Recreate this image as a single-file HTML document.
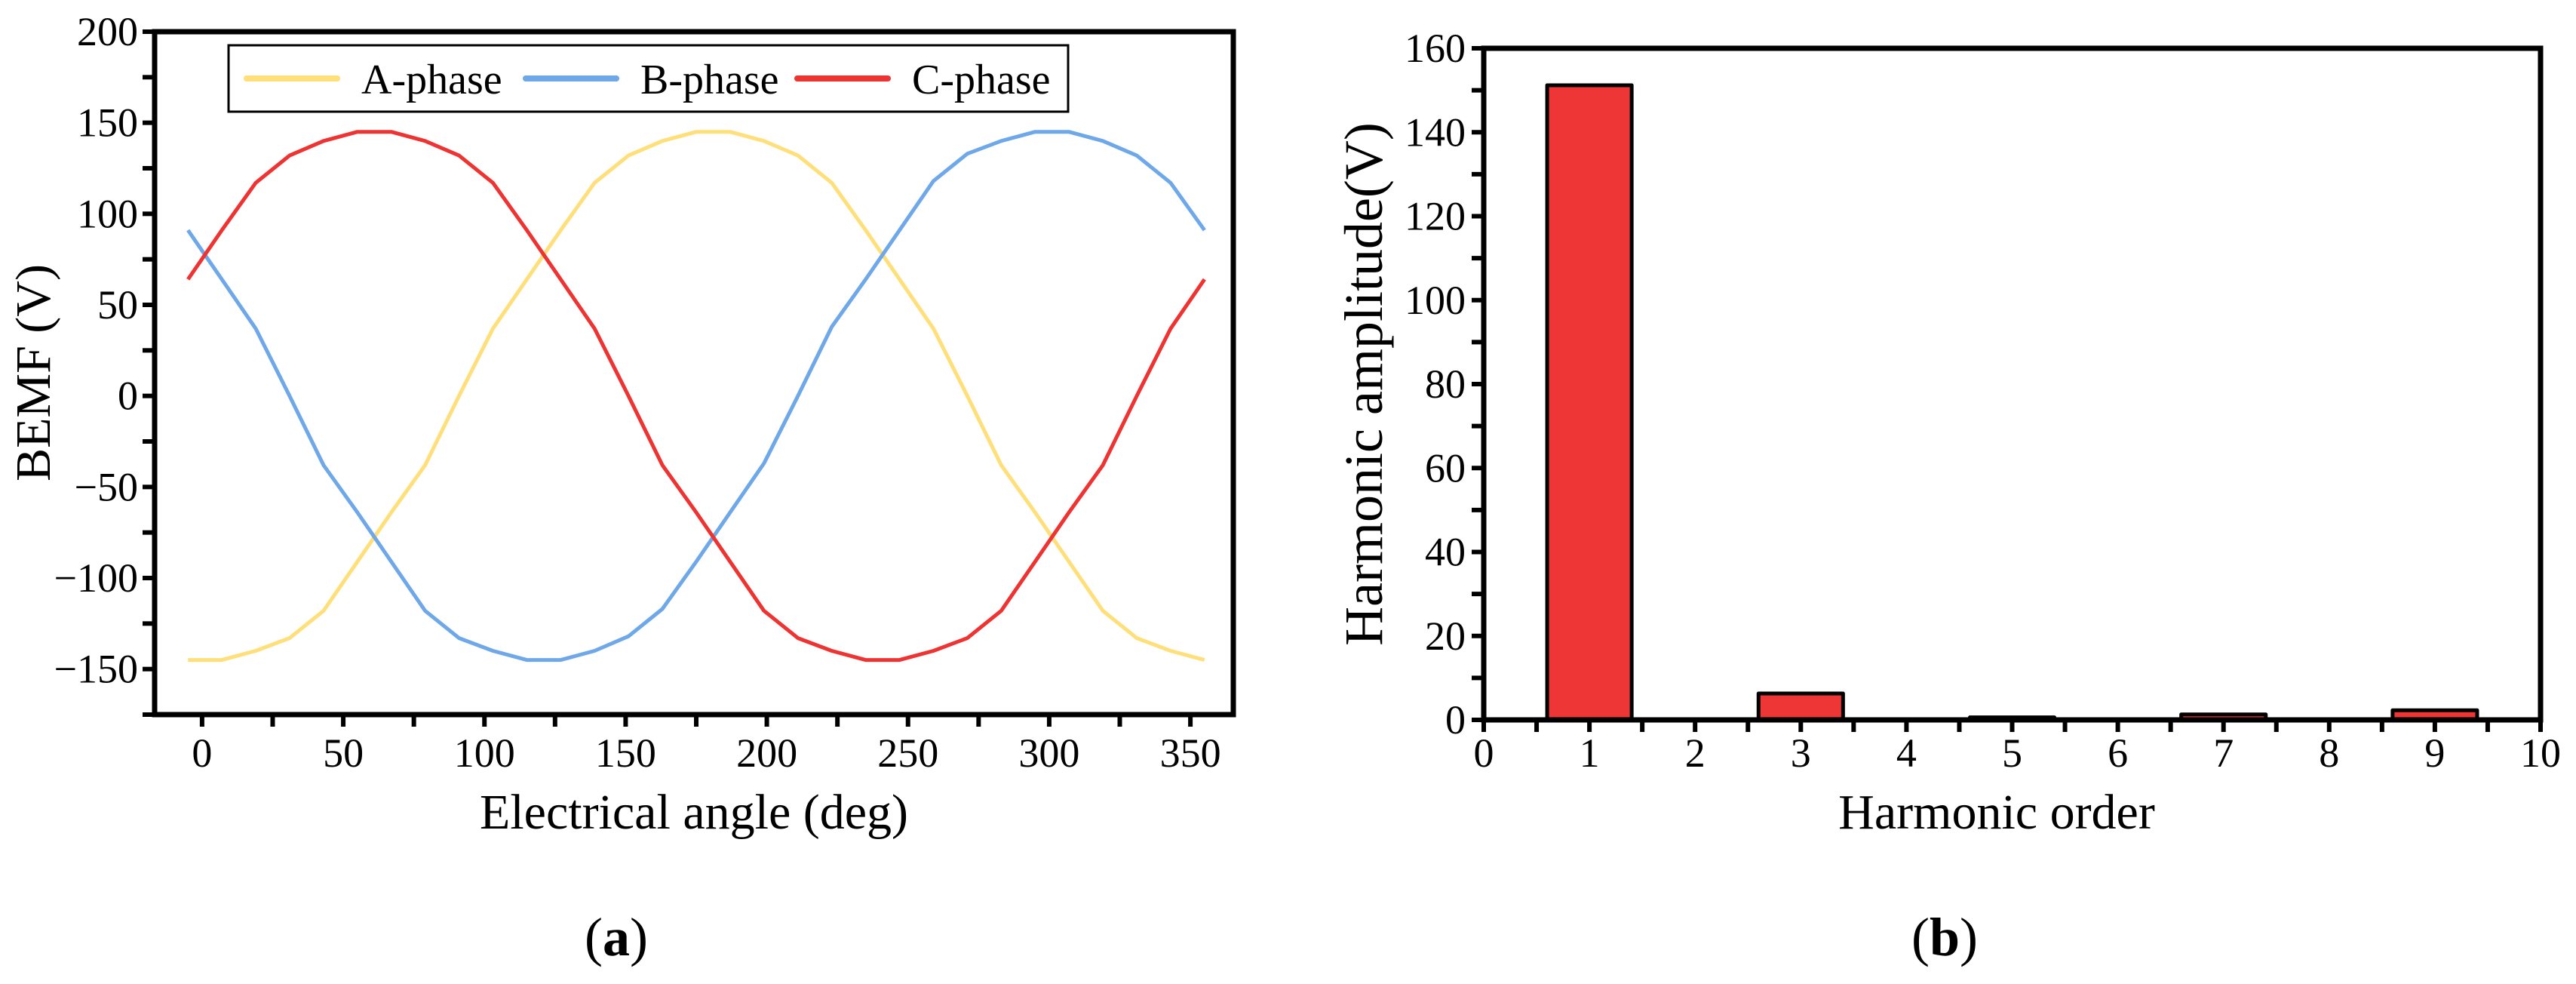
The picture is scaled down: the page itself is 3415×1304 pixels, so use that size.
<!DOCTYPE html>
<html><head><meta charset="utf-8"><style>
html,body{margin:0;padding:0;background:#fff;}
svg{display:block;font-family:"Liberation Serif",serif;}
</style></head><body>
<svg id="fig" width="3415" height="1304" viewBox="0 0 3415 1304" xmlns="http://www.w3.org/2000/svg">
<rect width="3415" height="1304" fill="#fff"/>
</svg>
<script>
// ---- Chart (a) data ----
const angles = [-5,7,19,31,43,55,67,79,91,103,115,127,139,151,163,175,187,199,211,223,235,247,259,271,283,295,307,319,331,343,355];
const phaseA = [-145,-145,-140,-133,-118,-91,-64,-38,0,37,64,91,117,132,140,145,145,140,132,117,91,64,37,0,-38,-64,-91,-118,-133,-140,-145];
const phaseB = [91,64,37,0,-38,-64,-91,-118,-133,-140,-145,-145,-140,-132,-117,-91,-64,-37,0,38,64,91,118,133,140,145,145,140,132,117,91];
const phaseC = [64,91,117,132,140,145,145,140,132,117,91,64,37,0,-38,-64,-91,-118,-133,-140,-145,-145,-140,-133,-118,-91,-64,-38,0,37,64];
const aXTicks = [0,50,100,150,200,250,300,350];
const aYTicks = [-150,-100,-50,0,50,100,150,200];
const legendNames = ["A-phase","B-phase","C-phase"];
// ---- Chart (b) data ----
const orders = [1,3,5,7,9];
const amplitudes = [151.2,6.3,0.6,1.3,2.3];
const bXTicks = [0,1,2,3,4,5,6,7,8,9,10];
const bYTicks = [0,20,40,60,80,100,120,140,160];

const NS="http://www.w3.org/2000/svg";
const svg=document.getElementById('fig');
function mk(tag,attrs,parent){const e=document.createElementNS(NS,tag);for(const k in attrs)e.setAttribute(k,attrs[k]);(parent||svg).appendChild(e);return e;}

// ===== Chart (a) =====
const aL=205,aR=1635,aT=42,aB=947;
const axMin=-16.8,axMax=365.2,ayMin=-175,ayMax=200;
const ax=v=>aL+(v-axMin)/(axMax-axMin)*(aR-aL);
const ay=v=>aB-(v-ayMin)/(ayMax-ayMin)*(aB-aT);
const gA=mk('g',{});


const colors=["#ffdf7a","#6fa8e8","#ee3333"];
[phaseA,phaseB,phaseC].forEach((s,i)=>{
  const p=mk('polyline',{points:s.map((v,j)=>ax(angles[j]).toFixed(1)+','+ay(v).toFixed(1)).join(' '),fill:'none',stroke:colors[i],'stroke-width':5,'stroke-linejoin':'round'},gA);
  
  
});
const fa=mk('rect',{x:aL,y:aT,width:aR-aL,height:aB-aT,fill:'none',stroke:'#000','stroke-width':7},gA);


for(let v=0;v<=350;v+=25){
  const t=mk('line',{x1:ax(v),x2:ax(v),y1:aB,y2:aB+16,stroke:'#000','stroke-width':6},gA);
  
  
}
aXTicks.forEach(v=>{
  const t=mk('text',{x:ax(v),y:1016,'font-size':54,'text-anchor':'middle'},gA);t.textContent=v;
  
  
});
for(let v=-175;v<=200;v+=25){
  const t=mk('line',{x1:aL-16,x2:aL,y1:ay(v),y2:ay(v),stroke:'#000','stroke-width':6},gA);
  
  
}
aYTicks.forEach(v=>{
  const t=mk('text',{x:aL-22,y:ay(v)+18,'font-size':54,'text-anchor':'end'},gA);t.textContent=v<0?'\u2212'+(-v):v;
  
  
});
const xta=mk('text',{x:920,y:1098,'font-size':66,'text-anchor':'middle'},gA);xta.textContent='Electrical angle (deg)';


const yta=mk('text',{x:0,y:0,'font-size':66,'text-anchor':'middle',transform:'translate(66,494) rotate(-90)'},gA);yta.textContent='BEMF (V)';


const lg=mk('g',{},gA);


mk('rect',{x:303,y:60,width:1113,height:88,fill:'#fff',stroke:'#000','stroke-width':3},lg);
const lx=[327,697,1057];
legendNames.forEach((n,i)=>{
  const l=mk('line',{x1:lx[i],x2:lx[i]+120,y1:104,y2:104,stroke:colors[i],'stroke-width':8,'stroke-linecap':'round'},lg);
  
  
  const t=mk('text',{x:lx[i]+152,y:124,'font-size':56},lg);t.textContent=n;
  
  
});
const capA=mk('text',{x:817,y:1266,'font-size':72,'text-anchor':'middle'},gA);
capA.innerHTML='(<tspan font-weight="bold">a</tspan>)';



// ===== Chart (b) =====
const bL=1967,bR=3368,bT=64,bB=954;
const bx=v=>bL+v/10*(bR-bL);
const by=v=>bB-v/160*(bB-bT);
const gB=mk('g',{});


orders.forEach((o,i)=>{
  const r=mk('rect',{x:bx(o-0.4),y:by(amplitudes[i]),width:bx(0.8)-bx(0),height:bB-by(amplitudes[i]),fill:'#ee3636',stroke:'#000','stroke-width':5,'stroke-linejoin':'round'},gB);
  
  
});
const fb=mk('rect',{x:bL,y:bT,width:bR-bL,height:bB-bT,fill:'none',stroke:'#000','stroke-width':7},gB);


for(let v=0;v<=10;v+=0.5){
  const t=mk('line',{x1:bx(v),x2:bx(v),y1:bB,y2:bB+16,stroke:'#000','stroke-width':6},gB);
  
  
}
bXTicks.forEach(v=>{
  const t=mk('text',{x:bx(v),y:1016,'font-size':54,'text-anchor':'middle'},gB);t.textContent=v;
  
  
});
for(let v=0;v<=160;v+=10){
  const t=mk('line',{x1:bL-16,x2:bL,y1:by(v),y2:by(v),stroke:'#000','stroke-width':6},gB);
  
  
}
bYTicks.forEach(v=>{
  const t=mk('text',{x:bL-24,y:by(v)+18,'font-size':54,'text-anchor':'end'},gB);t.textContent=v;
  
  
});
const xtb=mk('text',{x:2647,y:1098,'font-size':66,'text-anchor':'middle'},gB);xtb.textContent='Harmonic order';


const ytb=mk('text',{x:0,y:0,'font-size':72,'text-anchor':'middle',transform:'translate(1832,509) rotate(-90)'},gB);ytb.textContent='Harmonic amplitude(V)';


const capB=mk('text',{x:2578,y:1266,'font-size':72,'text-anchor':'middle'},gB);
capB.innerHTML='(<tspan font-weight="bold">b</tspan>)';


</script>
</body></html>
